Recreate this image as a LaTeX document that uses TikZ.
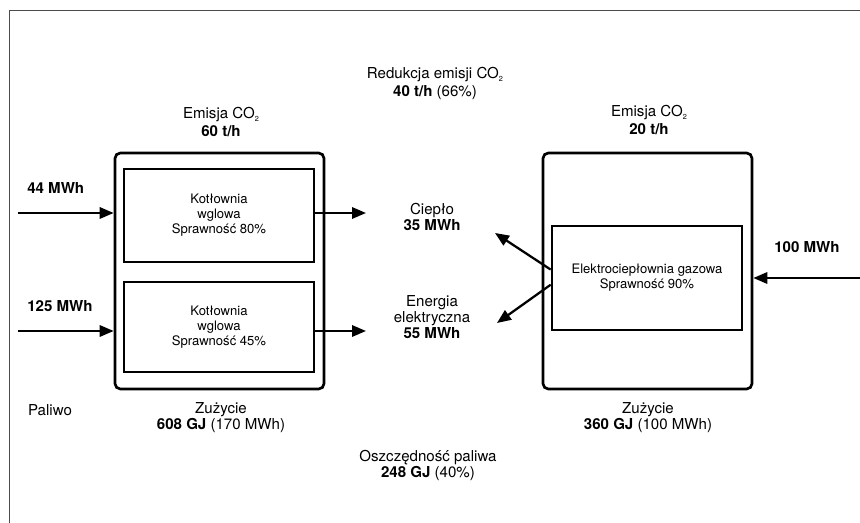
\documentclass[tikz,border=0pt]{standalone}
\usepackage{fontspec}
\setmainfont{TeX Gyre Heros}
\usetikzlibrary{arrows.meta}
\newcommand{\cotwo}{CO\raisebox{-0.4ex}{\fontsize{5.5}{6}\selectfont 2}}
\tikzset{
  plant/.style={draw, line width=2pt, rounded corners=4pt, minimum width=156.75pt, minimum height=177pt, inner sep=0pt},
  unit/.style={draw, line width=2pt, align=center, minimum width=142.5pt, inner sep=0pt, font=\fontsize{9.8}{11.2}\selectfont},
  lbl/.style={align=center, inner sep=0pt, font=\fontsize{11.3}{12}\selectfont},
  toplbl/.style={lbl, font=\fontsize{11.3}{13.5}\selectfont},
  flow/.style={lbl, font=\fontsize{11.3}{12}\selectfont\bfseries},
  arr/.style={-{Triangle[length=10.5pt, width=8.5pt]}, line width=1.7pt},
  frame/.style={draw=black!70, line width=0.75pt}}
\begin{document}
\begin{tikzpicture}[x=0.75pt, y=-0.75pt]
  \useasboundingbox (0,0) rectangle (860,523);
  \draw[frame] (9,523) -- (9,11) -- (860,11);

  \node[plant] (coal) at (219.5,271) {};
  \node[unit, minimum height=69.75pt] (boilA) at (219,215.5) {Kotłownia\\wglowa\\Sprawność 80\%};
  \node[unit, minimum height=67.5pt] (boilB) at (219,327) {Kotłownia\\wglowa\\Sprawność 45\%};
  \node[plant] (gas) at (647.5,271) {};
  \node[unit, minimum height=78pt] (chp) at (647,278) {Elektrociepłownia gazowa\\Sprawność 90\%};

  \foreach \n/\y/\v in {A/213/44, B/331/125} {
    \coordinate (fuel\n) at (18,\y);
    \coordinate (out\n) at (366,\y);
    \draw[arr] (fuel\n) -- (fuel\n -| coal.west);
    \draw[arr] (fuel\n -| boil\n.east) -- (out\n);
    \node[flow, anchor=west] (in\n) at (27,\y-25) {\v{} MWh};
  }

  \coordinate (gasIn) at (860,278);
  \coordinate (heatTip) at (495,233);
  \coordinate (elecTip) at (497,323);
  \draw[arr] (gasIn) -- (gasIn -| gas.east);
  \draw[arr] (chp.175) -- (heatTip);
  \draw[arr] (chp.184) -- (elecTip);
  \node[flow] (inC) at (807,247) {100 MWh};

  \node[toplbl] (emisL) at (221,122) {Emisja \cotwo\\\textbf{60 t/h}};
  \node[toplbl] (emisR) at (649,119.5) {Emisja \cotwo\\\textbf{20 t/h}};
  \node[toplbl] (reduk) at (435,83) {Redukcja emisji \cotwo\\\textbf{40 t/h} (66\%)};
  \node[lbl] (heat) at (432,216.5) {Ciepło\\\textbf{35 MWh}};
  \node[lbl] (elec) at (432,317.5) {Energia\\elektryczna\\\textbf{55 MWh}};
  \node[lbl] (fuel) at (50,410) {Paliwo};
  \node[lbl] (useL) at (221,418) {Zużycie\\\textbf{608 GJ} (170 MWh)};
  \node[lbl] (useR) at (648,418) {Zużycie\\\textbf{360 GJ} (100 MWh)};
  \node[lbl] (save) at (428,465) {Oszczędność paliwa\\\textbf{248 GJ} (40\%)};
\end{tikzpicture}
\end{document}
